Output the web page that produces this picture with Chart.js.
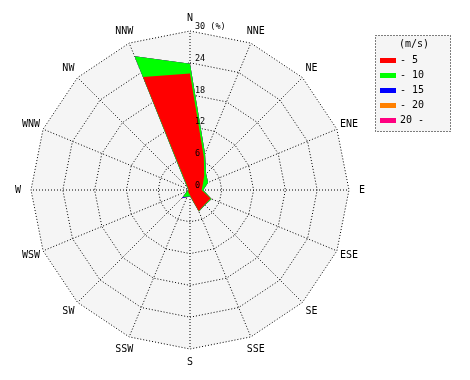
<!DOCTYPE html>
<html><head><meta charset="utf-8">
<script src="https://cdn.jsdelivr.net/npm/chart.js@4/dist/chart.umd.min.js"></script>
<style>html,body{margin:0;padding:0;background:#fff;}canvas{display:block;}</style>
</head><body>
<canvas id="c" width="470" height="380"></canvas>
<script>
const directions = ['N','NNE','NE','ENE','E','ESE','SE','SSE','S','SSW','SW','WSW','W','WNW','NW','NNW'];
const speedBins = ['- 5','- 10','- 15','- 20','20 -'];
const binColors = ['#ff0000','#00ff00','#0000ff','#ff8000','#ff0080'];
// frequency (%) per direction for each wind speed class
const upTo5  = [22.0, 6.8, 3.8, 2.6, 2.2, 4.2, 3.9, 4.3, 1.0, 0.6, 0.5, 0.3, 0.3, 0.3, 0.5, 23.1];
const upTo10 = [ 1.8, 0.6, 0.5, 1.1, 0.3, 0.2, 0.1, 0.1, 0.2, 0.8, 1.4, 0.3, 0.1, 0.1, 0.3,  4.2];
const upTo15 = [ 0,   0,   0,   0,   0,   0,   0,   0,   0,   0.1, 0.3, 0,   0,   0,   0,    0  ];
const upTo20 = [ 0,   0,   0,   0,   0,   0,   0,   0,   0,   0,   0,   0,   0,   0,   0,    0  ];
const over20 = [ 0,   0,   0,   0,   0,   0,   0,   0,   0,   0,   0,   0,   0,   0,   0,    0  ];
const tickValues = [0, 6, 12, 18, 24, 30];
const unitLabel = '(%)';
const legendTitle = '(m/s)';

const bins = [upTo5, upTo10, upTo15, upTo20, over20];
const running = directions.map(() => 0);
const datasets = bins.map((vals, k) => {
  const data = vals.map((v, i) => +(running[i] += v).toFixed(3));
  return {label: speedBins[k], data, backgroundColor: binColors[k], borderColor: binColors[k],
          borderWidth: 0, pointRadius: 0, pointHoverRadius: 0, fill: true, tension: 0};
});

const MONO = '"DejaVu Sans Mono", "Liberation Mono", monospace';

const windPlugin = {
  id: 'windrose',
  beforeDraw(chart) {
    const s = chart.scales.r, ctx = chart.ctx;
    ctx.save();
    ctx.beginPath();
    for (let i = 0; i < directions.length; i++) {
      const p = s.getPointPositionForValue(i, s.max);
      if (i) ctx.lineTo(p.x, p.y); else ctx.moveTo(p.x, p.y);
    }
    ctx.closePath();
    ctx.fillStyle = '#f5f5f5';
    ctx.fill();
    ctx.restore();
  },
  afterDatasetsDraw(chart) {
    // crisp 1px grid lines (scale layer is drawn after the datasets)
    chart.ctx.save();
    chart.ctx.translate(0.5, 0.5);
  },
  afterDraw(chart) {
    const s = chart.scales.r, ctx = chart.ctx;
    ctx.restore();
    ctx.save();
    ctx.fillStyle = '#000';
    // direction labels
    ctx.font = '10px ' + MONO;
    ctx.textAlign = 'center';
    ctx.textBaseline = 'middle';
    directions.forEach((d, i) => {
      const p = s.getPointPosition(i, s.drawingArea + 13);
      ctx.fillText(d, p.x, p.y);
    });
    // ring labels
    ctx.font = '8.5px ' + MONO;
    ctx.textAlign = 'left';
    ctx.textBaseline = 'alphabetic';
    tickValues.forEach(v => {
      const d = s.getDistanceFromCenterForValue(v);
      const txt = v === s.max ? v + ' ' + unitLabel : String(v);
      ctx.fillText(txt, s.xCenter + 5, s.yCenter - d - 2);
    });
    // legend
    const bx = 375.5, by = 35.5, bw = 75, bh = 96;
    ctx.fillStyle = '#f5f5f5';
    ctx.fillRect(bx, by, bw, bh);
    ctx.strokeStyle = '#000';
    ctx.lineWidth = 1;
    ctx.setLineDash([1, 2]);
    ctx.strokeRect(bx, by, bw, bh);
    ctx.setLineDash([]);
    ctx.fillStyle = '#000';
    ctx.font = '10px ' + MONO;
    ctx.textAlign = 'center';
    ctx.textBaseline = 'middle';
    ctx.fillText(legendTitle, 414, 44);
    ctx.textAlign = 'left';
    chart.data.datasets.forEach((ds, i) => {
      const y = 60 + 15 * i;
      ctx.fillStyle = ds.backgroundColor;
      ctx.fillRect(380, y - 2, 16, 5);
      ctx.fillStyle = '#000';
      ctx.fillText(ds.label, 400, y);
    });
    ctx.restore();
  }
};

new Chart(document.getElementById('c'), {
  type: 'radar',
  data: {labels: directions, datasets},
  options: {
    responsive: false,
    animation: false,
    layout: {padding: {left: 31, top: 31, right: 121, bottom: 31}},
    plugins: {legend: {display: false}, tooltip: {enabled: false}},
    elements: {line: {borderWidth: 0}, point: {radius: 0}},
    scales: {
      r: {
        min: 0, max: 30,
        beginAtZero: true,
        ticks: {display: false, stepSize: 6, z: 1},
        pointLabels: {display: false},
        grid: {color: '#000', lineWidth: 1, circular: false},
        border: {dash: [1, 2]},
        angleLines: {color: '#000', lineWidth: 1, borderDash: [1, 2]}
      }
    }
  },
  plugins: [windPlugin]
});
</script>
</body></html>
